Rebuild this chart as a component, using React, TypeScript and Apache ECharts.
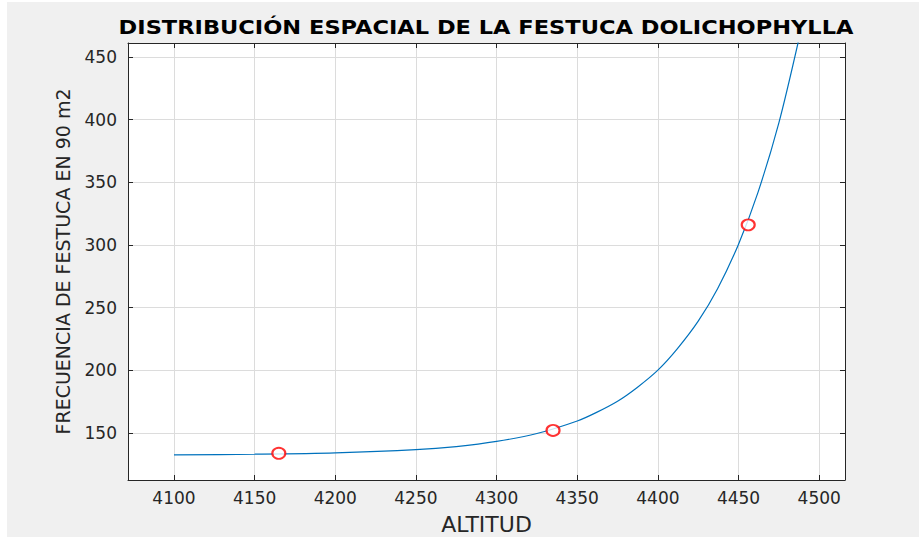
import React, { useEffect, useRef } from "react";
import * as echarts from "echarts";

const titleText = "DISTRIBUCIÓN ESPACIAL DE LA FESTUCA DOLICHOPHYLLA";
const xName = "ALTITUD";
const yName = "FRECUENCIA DE FESTUCA EN 90 m2";

// fitted curve
const curveX = [4100, 4150, 4200, 4250, 4275, 4300, 4325, 4350, 4362, 4375, 4387, 4400, 4412, 4425, 4437, 4450, 4462, 4475, 4487];
const curveY = [132.3, 132.9, 134.0, 136.5, 139.0, 143.1, 149.4, 159.4, 166.3, 175.2, 186.0, 200.0, 217.0, 239.1, 265.0, 300.6, 341.7, 397.5, 462.0];

// observed points
const obsX = [4165, 4335, 4456];
const obsY = [133.6, 151.9, 316.0];

const xMin = 4071.5;
const xMax = 4516;
const yMin = 112.3;
const yMax = 461.2;
const step = 50;

export default function App() {
  const ref = useRef<HTMLDivElement>(null);
  useEffect(() => {
    if (!ref.current) return;
    const chart = echarts.init(ref.current, null, { renderer: "svg" });
    const font = "DejaVu Sans";
    const axisCol = "#262626";
    const common = {
      axisLine: { show: true, lineStyle: { color: axisCol, width: 1 } },
      axisTick: { show: true, inside: true, length: 5, lineStyle: { color: axisCol } },
    };
    const fmt = (v: number) => (Math.abs(v % step) < 1e-6 ? String(v) : "");
    chart.setOption({
      animation: false,
      backgroundColor: "#ffffff",
      graphic: [
        { type: "rect", z: -10, shape: { x: 7, y: 2, width: 912, height: 535 }, style: { fill: "#f0f0f0" } },
        {
          type: "text",
          x: 486,
          y: 27,
          z: 10,
          scaleX: 1.155,
          style: {
            text: titleText,
            fill: "#000",
            font: "bold 19.5px 'DejaVu Sans'",
            align: "center",
            verticalAlign: "middle",
          },
        },
      ],
      grid: {
        left: 128,
        top: 43,
        right: 74,
        bottom: 57,
        containLabel: false,
        outerBoundsMode: "none",
        show: true,
        backgroundColor: "#ffffff",
        borderColor: axisCol,
        borderWidth: 0,
      },
      xAxis: [
        {
          type: "value",
          min: xMin,
          max: xMax,
          minInterval: step,
          maxInterval: step,
          splitNumber: 9,
          name: xName,
          nameLocation: "middle",
          nameGap: 33,
          nameTextStyle: { fontFamily: font, fontSize: 22, color: axisCol },
          ...common,
          axisLabel: {
            fontFamily: font,
            fontSize: 17,
            color: axisCol,
            margin: 9,
            showMinLabel: false,
            showMaxLabel: false,
            formatter: fmt,
          },
          splitLine: { show: true, lineStyle: { color: "#dcdcdc", width: 1 } },
        },
        {
          type: "value",
          position: "top",
          min: xMin,
          max: xMax,
          minInterval: step,
          maxInterval: step,
          splitNumber: 9,
          ...common,
          axisLabel: { show: false },
          splitLine: { show: false },
        },
      ],
      yAxis: [
        {
          type: "value",
          min: yMin,
          max: yMax,
          minInterval: step,
          maxInterval: step,
          splitNumber: 7,
          name: yName,
          nameLocation: "middle",
          nameGap: 56,
          nameTextStyle: { fontFamily: font, fontSize: 19, color: axisCol },
          ...common,
          axisLabel: {
            fontFamily: font,
            fontSize: 17,
            color: axisCol,
            margin: 11,
            showMinLabel: false,
            showMaxLabel: false,
            formatter: fmt,
          },
          splitLine: { show: true, lineStyle: { color: "#dcdcdc", width: 1 } },
        },
        {
          type: "value",
          position: "right",
          min: yMin,
          max: yMax,
          minInterval: step,
          maxInterval: step,
          splitNumber: 7,
          ...common,
          axisLabel: { show: false },
          splitLine: { show: false },
        },
      ],
      series: [
        {
          type: "line",
          data: curveX.map((x, i) => [x, curveY[i]]),
          smooth: 0.3,
          showSymbol: false,
          clip: true,
          lineStyle: { color: "#0072BD", width: 1.2 },
          z: 3,
        },
        {
          type: "scatter",
          data: obsX.map((x, i) => [x, obsY[i]]),
          symbol: "emptyCircle",
          symbolSize: [13, 11],
          itemStyle: { color: "#ff0000", borderColor: "#ff0000", borderWidth: 1.2 },
          z: 4,
        },
      ],
    });
    return () => chart.dispose();
  }, []);
  return (
    <div
      ref={ref}
      style={{ position: "fixed", left: 0, top: 0, width: 919, height: 537 }}
    />
  );
}
